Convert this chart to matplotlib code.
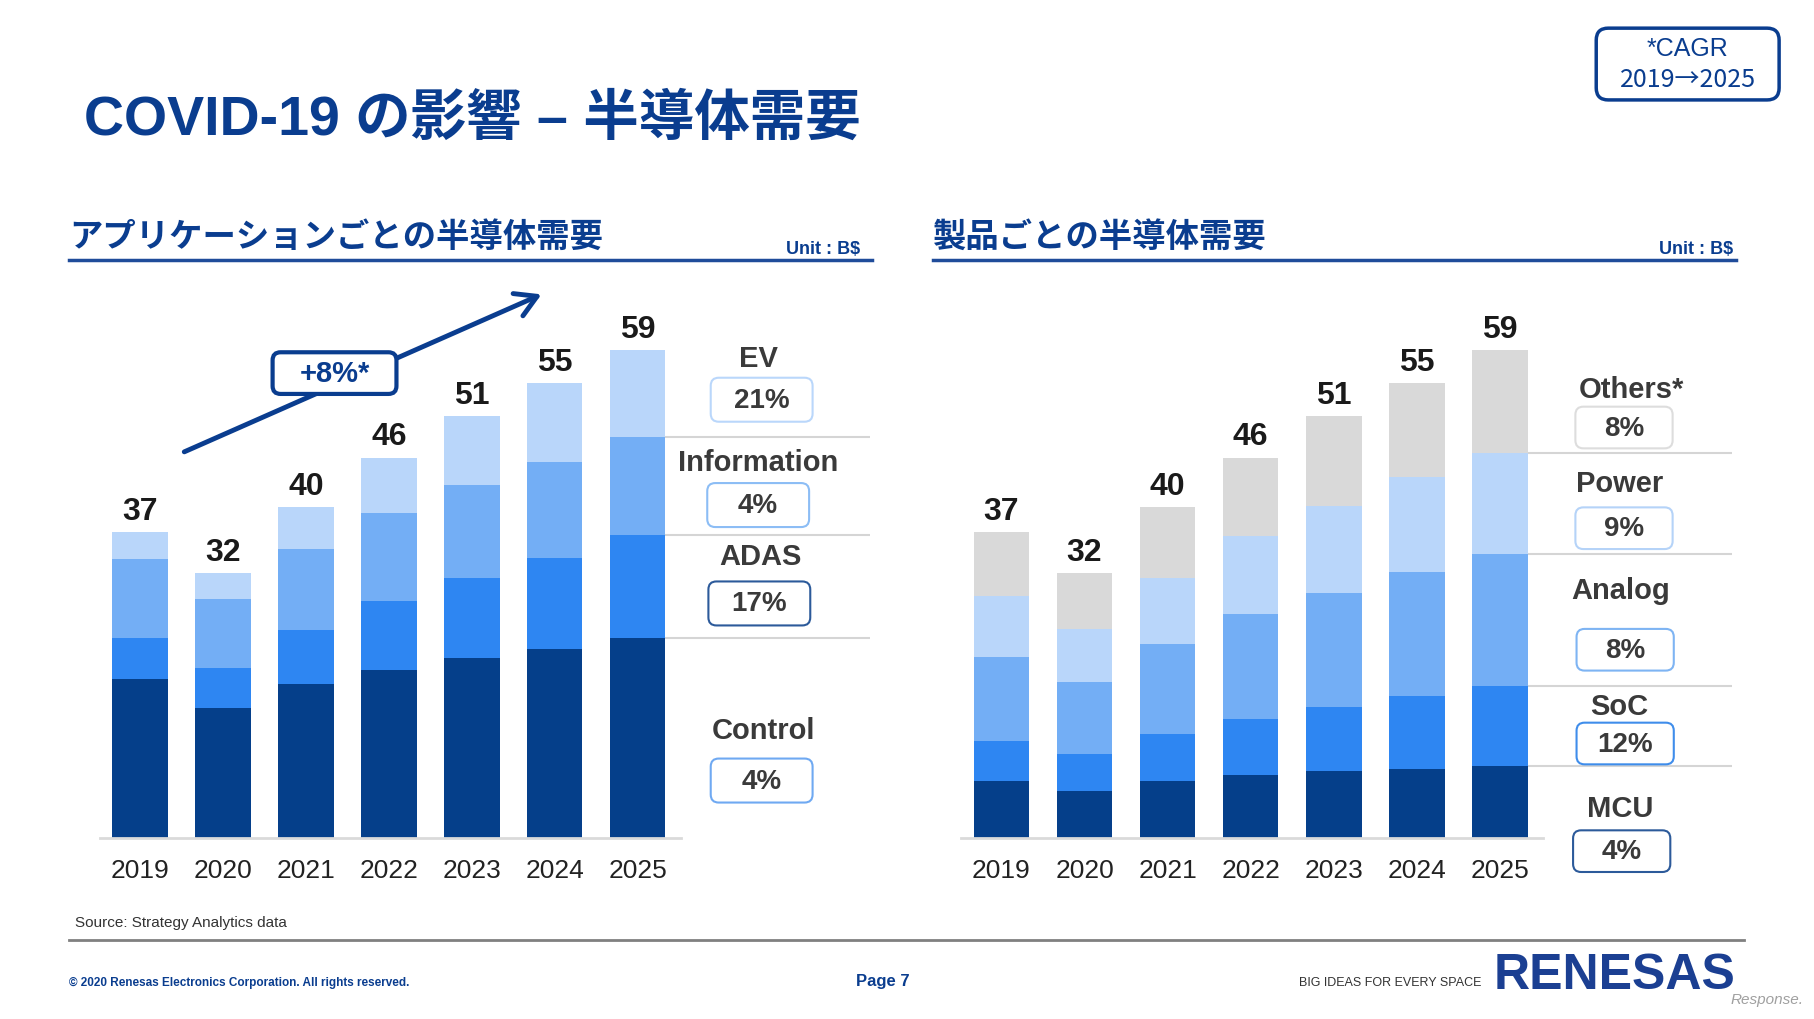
import numpy as np
import matplotlib
matplotlib.use('Agg')
import matplotlib.pyplot as plt
from matplotlib import font_manager as fm
from matplotlib.patches import FancyBboxPatch, FancyArrowPatch
from matplotlib.lines import Line2D

# data (B$)
years = ['2019', '2020', '2021', '2022', '2023', '2024', '2025']
totals = [37, 32, 40, 46, 51, 55, 59]

# by application (bottom -> top)
control = [19.3, 15.8, 18.6, 20.4, 21.8, 22.9, 24.2]
adas = [4.9, 4.8, 6.6, 8.3, 9.7, 11.0, 12.4]
information = [9.5, 8.3, 9.7, 10.6, 11.2, 11.6, 11.9]
ev = [3.3, 3.1, 5.1, 6.7, 8.3, 9.5, 10.5]
app_names = ['EV', 'Information', 'ADAS', 'Control']
app_cagr = ['21%', '4%', '17%', '4%']

# by product (bottom -> top)
mcu = [6.9, 5.7, 6.9, 7.7, 8.1, 8.4, 8.7]
soc = [4.9, 4.5, 5.7, 6.7, 7.8, 8.8, 9.7]
analog = [10.1, 8.7, 10.9, 12.7, 13.8, 15.0, 15.9]
power = [7.4, 6.4, 8.0, 9.4, 10.5, 11.5, 12.3]
others = [7.7, 6.7, 8.5, 9.5, 10.8, 11.3, 12.4]
prod_names = ['Others*', 'Power', 'Analog', 'SoC', 'MCU']
prod_cagr = ['8%', '9%', '8%', '12%', '4%']

# colours
navy = '#053F8A'
mid = '#2E86F2'
lmid = '#73AEF5'
light = '#B9D6FA'
grey = '#D9D9D9'
blue_txt = '#0A3D8F'
dark_txt = '#3A3A3A'

names = {f.name for f in fm.fontManager.ttflist}
if 'Liberation Sans Narrow' in names:
    num_font, num_size = 'Liberation Sans Narrow', 25
else:
    num_font, num_size = 'Liberation Sans', 23
plt.rcParams['font.family'] = ['Liberation Sans', 'Noto Sans CJK JP', 'DejaVu Sans']

fig = plt.figure(figsize=(18.15, 10.2), dpi=100)
S = 1815 / 1568


# layout helpers: measured in the 1568x881 preview, converted to inches
def ix(x):
    return x * S / 100


def iy(y):
    return (881 - y) * S / 100


T = fig.dpi_scale_trans


def ftext(x, y, s, **kw):
    kw.setdefault('va', 'center')
    kw.setdefault('ha', 'center')
    fig.text(ix(x), iy(y), s, transform=T, **kw)


def fbox(cx, cy, w, h, ec, lw=1.5, r=0.08, fc='white', z=3):
    p = FancyBboxPatch((ix(cx - w / 2), iy(cy + h / 2)), w * S / 100, h * S / 100,
                       boxstyle='round,pad=0,rounding_size=%f' % r,
                       transform=T, fc=fc, ec=ec, lw=lw, zorder=z)
    fig.add_artist(p)


def fline(x0, x1, y, color, lw):
    fig.add_artist(Line2D([ix(x0), ix(x1)], [iy(y), iy(y)], transform=T, color=color, lw=lw))


# title + headings
ftext(73, 104, 'COVID-19 の影響 – 半導体需要', ha='left', fontsize=40, fontweight='bold', color=blue_txt)
ftext(60, 205, 'アプリケーションごとの半導体需要', ha='left', fontsize=24, fontweight='bold',
      color=blue_txt, family=['Noto Sans CJK JP'])
ftext(806, 205, '製品ごとの半導体需要', ha='left', fontsize=24, fontweight='bold',
      color=blue_txt, family=['Noto Sans CJK JP'])
ftext(743, 215, 'Unit : B$', ha='right', fontsize=13, fontweight='bold', color=blue_txt)
ftext(1497, 215, 'Unit : B$', ha='right', fontsize=13, fontweight='bold', color=blue_txt)
fline(60, 753, 225, '#1F4C9A', 2.5)
fline(806, 1500, 225, '#1F4C9A', 2.5)

# CAGR note box
fbox(1458, 56, 158, 62, blue_txt, lw=2.5, r=0.12)
ftext(1458, 42, '*CAGR', fontsize=18, color=blue_txt, zorder=5)
ftext(1458, 69, '2019→2025', fontsize=18, color=blue_txt, zorder=5,
      family=['Noto Sans CJK JP'])

x = np.arange(len(years))
bw = 0.67


def stacked(ax, layers, colors):
    bottom = np.zeros(len(years))
    for vals, c in zip(layers, colors):
        ax.bar(x, vals, bw, bottom=bottom, color=c, zorder=2)
        bottom += np.array(vals)
    for i, t in enumerate(totals):
        ax.text(x[i], t + 1.6, str(t), ha='center', va='baseline', fontsize=num_size,
                fontweight='bold', color='#1A1A1A', family=[num_font, 'DejaVu Sans'])
    ax.set_xlim(-0.49, 6.52)
    ax.set_ylim(0, 70)
    for s in ['top', 'right', 'left']:
        ax.spines[s].set_visible(False)
    ax.spines['bottom'].set_color('#DADADA')
    ax.spines['bottom'].set_linewidth(2)
    ax.set_yticks([])
    ax.set_xticks(x)
    ax.set_xticklabels(years, fontsize=19, color='#222222')
    ax.tick_params(axis='x', length=0, pad=14)
    # separators at segment boundaries of the last bar
    cum = np.cumsum([l[-1] for l in layers])[:-1]
    ax.hlines(cum, 6 + bw / 2, 8.8, colors='#D5D5D5', lw=1.5, clip_on=False)


ax1 = fig.add_axes([86 / 1568, 1 - 725 / 881, 502 / 1568, 500.5 / 881])
stacked(ax1, [control, adas, information, ev], [navy, mid, lmid, light])

ax2 = fig.add_axes([830 / 1568, 1 - 725 / 881, 503 / 1568, 500.5 / 881])
stacked(ax2, [mcu, soc, analog, power, others], [navy, mid, lmid, light, grey])

# category labels + CAGR boxes (left)
app_lab_pos = [(655, 310), (655, 400), (657, 481), (660, 631)]
app_box_pos = [(658, 346), (655, 437), (656, 522), (658, 675)]
app_edge = ['#BAD7FB', '#8CBDF5', '#2C5A9A', '#6FA9F2']
for n, c, lp, bp, e in zip(app_names, app_cagr, app_lab_pos, app_box_pos, app_edge):
    ftext(lp[0], lp[1], n, fontsize=21, fontweight='bold', color=dark_txt)
    fbox(bp[0], bp[1], 88, 38, e)
    ftext(bp[0], bp[1], c, fontsize=20, fontweight='bold', color=dark_txt, zorder=5)

# category labels + CAGR boxes (right)
prod_lab_pos = [(1409, 337), (1399, 418), (1400, 510), (1399, 611), (1400, 699)]
prod_box_pos = [(1403, 370), (1403, 457), (1404, 562), (1404, 643), (1401, 736)]
prod_edge = ['#DDDDDD', '#B5D3F8', '#7EB4F3', '#3F8DEB', '#2C5A9A']
for n, c, lp, bp, e in zip(prod_names, prod_cagr, prod_lab_pos, prod_box_pos, prod_edge):
    ftext(lp[0], lp[1], n, fontsize=21, fontweight='bold', color=dark_txt)
    fbox(bp[0], bp[1], 84, 36, e)
    ftext(bp[0], bp[1], c, fontsize=20, fontweight='bold', color=dark_txt, zorder=5)

# growth arrow
arr = FancyArrowPatch((ix(157), iy(392)), (ix(470), iy(254)), transform=T,
                      arrowstyle='->,head_length=0.6,head_width=0.35', mutation_scale=25,
                      color=blue_txt, lw=3.5, zorder=4)
fig.add_artist(arr)
fbox(289, 323, 107, 36, blue_txt, lw=3, r=0.08, z=6)
ftext(289, 323, '+8%*', fontsize=21, fontweight='bold', color=blue_txt, zorder=7)

# footer
ftext(65, 797, 'Source: Strategy Analytics data', ha='left', fontsize=11, color='#333333')
fline(60, 1507, 813, '#808080', 2)
ftext(60, 849, '© 2020 Renesas Electronics Corporation. All rights reserved.', ha='left',
      fontsize=8.5, fontweight='bold', color=blue_txt)
ftext(763, 848, 'Page 7', fontsize=12, fontweight='bold', color=blue_txt)
ftext(1122, 849, 'BIG IDEAS FOR EVERY SPACE', ha='left', fontsize=9, color='#333333')
ftext(1290, 843, 'RENESAS', ha='left', fontsize=36, fontweight='bold', color='#1B3F92')
ftext(1558, 864, 'Response.', ha='right', fontsize=11, style='italic', color='#A0A0A0')

fig.savefig('out.png', dpi=100)
